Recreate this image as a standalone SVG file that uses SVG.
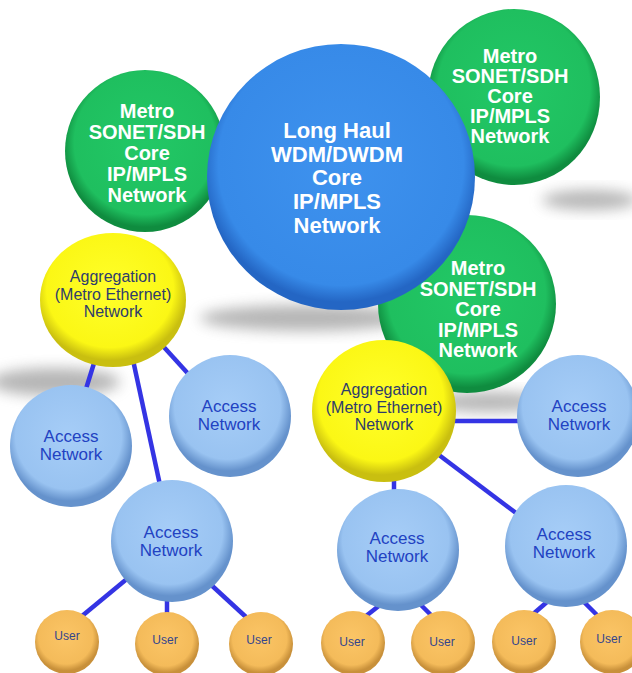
<svg xmlns="http://www.w3.org/2000/svg" width="632" height="673" viewBox="0 0 632 673">
<defs>
  <filter id="blur" x="-50%" y="-50%" width="200%" height="200%"><feGaussianBlur stdDeviation="7"/></filter>
  <radialGradient id="gBlue" cx="50%" cy="45%" r="52%"><stop offset="0" stop-color="#3e92ee"/><stop offset="0.88" stop-color="#378ae8"/><stop offset="1" stop-color="#2466c4"/></radialGradient>
  <radialGradient id="gGreen" cx="50%" cy="45%" r="52%"><stop offset="0" stop-color="#22c866"/><stop offset="0.85" stop-color="#1fbf5f"/><stop offset="1" stop-color="#0f8c3f"/></radialGradient>
  <radialGradient id="gYellow" cx="48%" cy="42%" r="53%"><stop offset="0" stop-color="#ffff2a"/><stop offset="0.82" stop-color="#fbf715"/><stop offset="1" stop-color="#c9bf10"/></radialGradient>
  <radialGradient id="gAccess" cx="48%" cy="42%" r="53%"><stop offset="0" stop-color="#a6cdf7"/><stop offset="0.82" stop-color="#99c3f1"/><stop offset="1" stop-color="#6592cc"/></radialGradient>
  <radialGradient id="gUser" cx="48%" cy="42%" r="53%"><stop offset="0" stop-color="#fbc566"/><stop offset="0.8" stop-color="#f4bb5a"/><stop offset="1" stop-color="#c8903a"/></radialGradient>
  <style>
    .core{fill:#ffffff;font-family:"Liberation Sans",Arial,sans-serif;font-weight:bold;text-anchor:middle}
    .agg{fill:#2e3c6c;font-family:"Liberation Sans",Arial,sans-serif;font-size:16px;text-anchor:middle}
    .acc{fill:#2242c2;font-family:"Liberation Sans",Arial,sans-serif;font-size:17px;text-anchor:middle}
    .usr{fill:#34458c;font-family:"Liberation Sans",Arial,sans-serif;font-size:12px;text-anchor:middle}
    .link{stroke:#3434e4;stroke-width:4.5;fill:none}
    .shadow{fill:#7a7a7a;opacity:0.55;filter:url(#blur)}
  </style>
</defs>
<rect width="632" height="673" fill="#ffffff"/>
<g id="shadows">
  <ellipse class="shadow" cx="305" cy="318" rx="105" ry="13"/>
  <ellipse class="shadow" cx="55" cy="382" rx="65" ry="14"/>
  <ellipse class="shadow" cx="590" cy="200" rx="48" ry="10"/>
  <ellipse class="shadow" cx="490" cy="402" rx="62" ry="10"/>
</g>
<g id="connectors">
  <line class="link" x1="95" y1="360" x2="85" y2="392"/>
  <line class="link" x1="133" y1="360" x2="160" y2="485"/>
  <line class="link" x1="162" y1="345" x2="192" y2="378"/>
  <line class="link" x1="128" y1="578" x2="82" y2="616"/>
  <line class="link" x1="167" y1="598" x2="167" y2="614"/>
  <line class="link" x1="208" y1="582" x2="246" y2="617"/>
  <line class="link" x1="450" y1="421" x2="525" y2="421"/>
  <line class="link" x1="435" y1="452" x2="520" y2="516"/>
  <line class="link" x1="394" y1="478" x2="394" y2="492"/>
  <line class="link" x1="380" y1="605" x2="366" y2="616"/>
  <line class="link" x1="420" y1="604" x2="432" y2="616"/>
  <line class="link" x1="547" y1="602" x2="532" y2="615"/>
  <line class="link" x1="584" y1="602" x2="597" y2="615"/>
</g>
<g id="metro-top-left">
  <ellipse cx="145" cy="151" rx="80" ry="81" fill="url(#gGreen)"/>
  <text class="core" font-size="20"><tspan x="147" y="118">Metro</tspan><tspan x="147" y="139">SONET/SDH</tspan><tspan x="147" y="160">Core</tspan><tspan x="147" y="181">IP/MPLS</tspan><tspan x="147" y="202">Network</tspan></text>
</g>
<g id="metro-top-right">
  <ellipse cx="514" cy="97" rx="86" ry="88" fill="url(#gGreen)"/>
  <text class="core" font-size="20"><tspan x="510" y="63">Metro</tspan><tspan x="510" y="83">SONET/SDH</tspan><tspan x="510" y="103">Core</tspan><tspan x="510" y="123">IP/MPLS</tspan><tspan x="510" y="143">Network</tspan></text>
</g>
<g id="metro-bottom-right">
  <ellipse cx="467" cy="304" rx="89" ry="89" fill="url(#gGreen)"/>
  <text class="core" font-size="20"><tspan x="478" y="275">Metro</tspan><tspan x="478" y="295.5">SONET/SDH</tspan><tspan x="478" y="316">Core</tspan><tspan x="478" y="336.5">IP/MPLS</tspan><tspan x="478" y="357">Network</tspan></text>
</g>
<g id="long-haul">
  <ellipse cx="341" cy="177" rx="134" ry="133" fill="url(#gBlue)"/>
  <text class="core" font-size="22"><tspan x="337" y="138">Long Haul</tspan><tspan x="337" y="161.5">WDM/DWDM</tspan><tspan x="337" y="185">Core</tspan><tspan x="337" y="209">IP/MPLS</tspan><tspan x="337" y="233">Network</tspan></text>
</g>
<g id="aggregation-left">
  <ellipse cx="113" cy="300" rx="73" ry="67" fill="url(#gYellow)"/>
  <text class="agg"><tspan x="113" y="282">Aggregation</tspan><tspan x="113" y="300">(Metro Ethernet)</tspan><tspan x="113" y="317">Network</tspan></text>
</g>
<g id="aggregation-right">
  <ellipse cx="384" cy="411" rx="72" ry="71" fill="url(#gYellow)"/>
  <text class="agg"><tspan x="384" y="395">Aggregation</tspan><tspan x="384" y="413">(Metro Ethernet)</tspan><tspan x="384" y="430">Network</tspan></text>
</g>
<g id="access-left">
  <circle cx="71" cy="446" r="61" fill="url(#gAccess)"/>
  <text class="acc"><tspan x="71" y="442">Access</tspan><tspan x="71" y="460">Network</tspan></text>
</g>
<g id="access-mid">
  <circle cx="230" cy="416" r="61" fill="url(#gAccess)"/>
  <text class="acc"><tspan x="229" y="412">Access</tspan><tspan x="229" y="430">Network</tspan></text>
</g>
<g id="access-bottom-left">
  <circle cx="172" cy="541" r="61" fill="url(#gAccess)"/>
  <text class="acc"><tspan x="171" y="538">Access</tspan><tspan x="171" y="556">Network</tspan></text>
</g>
<g id="access-right-top">
  <circle cx="578" cy="416" r="61" fill="url(#gAccess)"/>
  <text class="acc"><tspan x="579" y="412">Access</tspan><tspan x="579" y="430">Network</tspan></text>
</g>
<g id="access-right-a">
  <circle cx="398" cy="550" r="61" fill="url(#gAccess)"/>
  <text class="acc"><tspan x="397" y="544">Access</tspan><tspan x="397" y="562">Network</tspan></text>
</g>
<g id="access-right-b">
  <circle cx="566" cy="546" r="61" fill="url(#gAccess)"/>
  <text class="acc"><tspan x="564" y="540">Access</tspan><tspan x="564" y="558">Network</tspan></text>
</g>
<g id="user-1"><circle cx="67" cy="642" r="32" fill="url(#gUser)"/><text class="usr" x="67" y="640">User</text></g>
<g id="user-2"><circle cx="167" cy="644" r="32" fill="url(#gUser)"/><text class="usr" x="165" y="644">User</text></g>
<g id="user-3"><circle cx="261" cy="644" r="32" fill="url(#gUser)"/><text class="usr" x="259" y="644">User</text></g>
<g id="user-4"><circle cx="353" cy="643" r="32" fill="url(#gUser)"/><text class="usr" x="352" y="646">User</text></g>
<g id="user-5"><circle cx="443" cy="643" r="32" fill="url(#gUser)"/><text class="usr" x="442" y="646">User</text></g>
<g id="user-6"><circle cx="524" cy="642" r="32" fill="url(#gUser)"/><text class="usr" x="524" y="645">User</text></g>
<g id="user-7"><circle cx="612" cy="642" r="32" fill="url(#gUser)"/><text class="usr" x="609" y="643">User</text></g>
</svg>
